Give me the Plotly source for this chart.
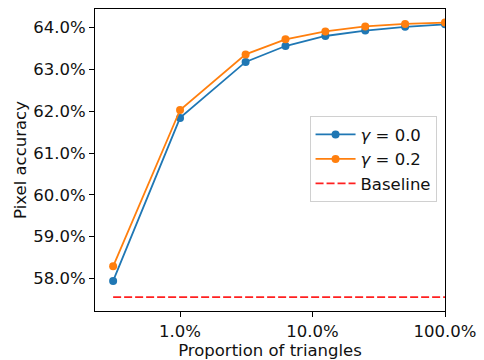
import plotly.graph_objects as go

# Fraction of triangles used (log scale) and resulting pixel accuracy (%)
proportion = [1 / 320, 0.01, 1 / 32, 1 / 16, 1 / 8, 1 / 4, 1 / 2, 1.0]
acc_gamma_00 = [57.94, 61.84, 63.18, 63.56, 63.80, 63.93, 64.02, 64.08]
acc_gamma_02 = [58.29, 62.03, 63.36, 63.72, 63.91, 64.03, 64.09, 64.12]
baseline_acc = 57.55

x_tick_vals = [0.01, 0.1, 1.0]
x_tick_text = ["1.0%", "10.0%", "100.0%"]
y_tick_vals = [58, 59, 60, 61, 62, 63, 64]
y_tick_text = [f"{v:.1f}%" for v in y_tick_vals]

font = dict(family="DejaVu Sans", size=16.5, color="#111111")

fig = go.Figure()
fig.add_trace(go.Scatter(
    x=proportion, y=acc_gamma_00, mode="lines+markers",
    name="<i>γ</i> = 0.0",
    line=dict(color="#1f77b4", width=1.8),
    marker=dict(color="#1f77b4", size=8),
))
fig.add_trace(go.Scatter(
    x=proportion, y=acc_gamma_02, mode="lines+markers",
    name="<i>γ</i> = 0.2",
    line=dict(color="#ff7f0e", width=1.8),
    marker=dict(color="#ff7f0e", size=8),
))
fig.add_trace(go.Scatter(
    x=[proportion[0], proportion[-1]], y=[baseline_acc, baseline_acc],
    mode="lines", name="Baseline",
    line=dict(color="#ff2020", width=1.8, dash="8px,3px"),
))

axis_common = dict(
    showgrid=False, zeroline=False, showline=True, linecolor="black",
    linewidth=1, mirror=True, ticks="outside", ticklen=5, tickwidth=1,
    tickcolor="black", tickfont=font,
)

fig.update_layout(
    width=484, height=360,
    margin=dict(l=95, r=35, t=8, b=49),
    paper_bgcolor="white", plot_bgcolor="white",
    font=font,
    showlegend=True,
    legend=dict(
        x=0.613, y=0.645, xanchor="left", yanchor="top",
        bgcolor="rgba(255,255,255,0.8)", bordercolor="#d0d0d0", borderwidth=1,
        font=font, itemwidth=40, tracegroupgap=0,
    ),
    xaxis=dict(
        type="log", range=[-2.642, 0.0],
        tickvals=x_tick_vals, ticktext=x_tick_text,
        title=dict(text="Proportion of triangles", font=font, standoff=0),
        **axis_common,
    ),
    yaxis=dict(
        range=[57.22, 64.446],
        tickvals=y_tick_vals, ticktext=y_tick_text,
        title=dict(text="Pixel accuracy", font=font, standoff=2),
        **axis_common,
    ),
)

fig.write_html("out.html")
